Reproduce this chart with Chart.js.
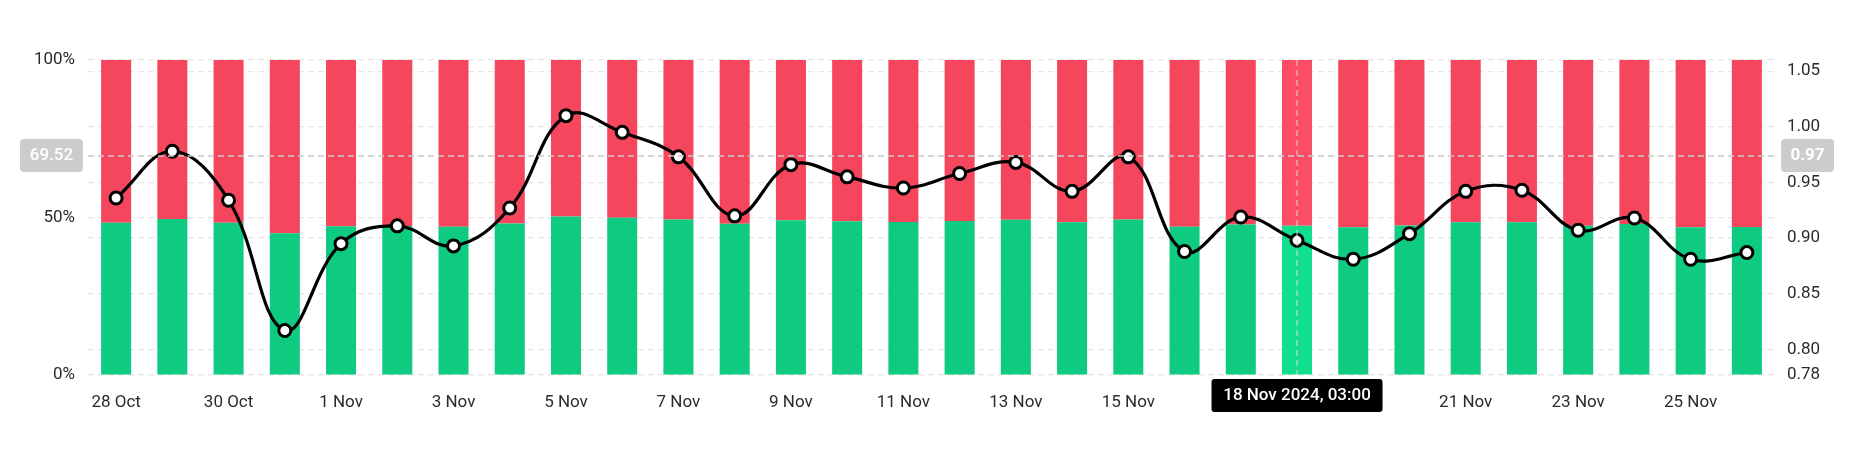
<!DOCTYPE html>
<html>
<head>
    <title>Long/Short Ratio</title>
    <script src="https://cdn.jsdelivr.net/npm/chart.js"></script>
    <style>
      body { margin: 0; background: #fff; }
    </style>
</head>
<body>
    <canvas id="chart" width="1852" height="450"></canvas>

    <script>
    const labels = ['28 Oct','29 Oct','30 Oct','31 Oct','1 Nov','2 Nov','3 Nov','4 Nov','5 Nov','6 Nov',
      '7 Nov','8 Nov','9 Nov','10 Nov','11 Nov','12 Nov','13 Nov','14 Nov','15 Nov','16 Nov',
      '17 Nov','18 Nov','19 Nov','20 Nov','21 Nov','22 Nov','23 Nov','24 Nov','25 Nov','26 Nov'];
    const longPct = [48.3, 49.5, 48.3, 45.0, 47.2, 47.3, 47.1, 48.1, 50.3, 49.9,
      49.4, 48.0, 49.1, 48.8, 48.6, 48.9, 49.3, 48.5, 49.4, 47.1,
      47.8, 47.4, 46.9, 47.5, 48.5, 48.5, 47.4, 47.9, 46.9, 47.0];
    const shortPct = [51.7, 50.5, 51.7, 55.0, 52.8, 52.7, 52.9, 51.9, 49.7, 50.1,
      50.6, 52.0, 50.9, 51.2, 51.4, 51.1, 50.7, 51.5, 50.6, 52.9,
      52.2, 52.6, 53.1, 52.5, 51.5, 51.5, 52.6, 52.1, 53.1, 53.0];
    const ratio = [0.936, 0.978, 0.934, 0.817, 0.895, 0.911, 0.893, 0.927, 1.010, 0.995,
      0.973, 0.920, 0.966, 0.955, 0.945, 0.958, 0.968, 0.942, 0.973, 0.888,
      0.919, 0.898, 0.881, 0.904, 0.942, 0.943, 0.907, 0.918, 0.881, 0.887];
    const rightMin = 0.777;
    const rightMax = 1.06;
    const rightTicks = [0.80, 0.85, 0.90, 0.95, 1.00, 1.05];
    const hoverIndex = 21;
    const hoverLabel = '18 Nov 2024, 03:00';
    const crossPct = 69.52;

    const green = '#0ECB81', greenHi = '#12DF8E';
    const red = '#F6465D', redHi = '#FC4D66';
    const textColor = '#2b2b2b';
    const gridColor = '#e6e6e6';

    Chart.defaults.font.family = 'Roboto, "Noto Sans", sans-serif';
    Chart.defaults.font.size = 17;
    Chart.defaults.color = textColor;

    function roundBox(ctx, x, y, w, h, r, fill) {
      ctx.beginPath();
      ctx.roundRect(x, y, w, h, r);
      ctx.fillStyle = fill;
      ctx.fill();
    }

    const crosshair = {
      id: 'crosshair',
      afterDatasetsDraw(chart) {
        const ctx = chart.ctx;
        const area = chart.chartArea;
        const x = chart.scales.x.getPixelForValue(hoverIndex);
        const y = chart.scales.y.getPixelForValue(crossPct);
        ctx.save();
        ctx.lineWidth = 1.5;
        ctx.setLineDash([6, 4]);
        ctx.strokeStyle = '#c9c9c9';
        ctx.beginPath();
        ctx.moveTo(area.left, y);
        ctx.lineTo(area.right + 2, y);
        ctx.stroke();
        ctx.strokeStyle = '#dcdcdc';
        ctx.lineWidth = 1;
        ctx.beginPath();
        ctx.moveTo(x, area.top);
        ctx.lineTo(x, area.bottom);
        ctx.stroke();
        ctx.restore();
      },
      afterDraw(chart) {
        const ctx = chart.ctx;
        const area = chart.chartArea;
        const yR = chart.scales.y1;
        const x = chart.scales.x.getPixelForValue(hoverIndex);
        const y = chart.scales.y.getPixelForValue(crossPct);
        const rVal = Math.floor(yR.getValueForPixel(y) * 100) / 100;
        ctx.save();
        ctx.textAlign = 'center';
        ctx.textBaseline = 'middle';
        // left value box
        ctx.font = '500 17px Roboto, sans-serif';
        roundBox(ctx, 20, y - 17, 63, 33, 4, '#cccccc');
        ctx.fillStyle = '#fff';
        ctx.fillText(crossPct.toFixed(2), 51.5, y);
        // right value box
        roundBox(ctx, area.right + 6, y - 17, 53, 33, 4, '#cccccc');
        ctx.fillStyle = '#fff';
        ctx.font = 'bold 17px Roboto, sans-serif';
        ctx.fillText(rVal.toFixed(2), area.right + 32.5, y);
        // date box
        ctx.font = '500 17px Roboto, sans-serif';
        roundBox(ctx, x - 85.5, area.bottom + 4, 171, 33, 3, '#000');
        ctx.fillStyle = '#fff';
        ctx.fillText(hoverLabel, x, area.bottom + 21);
        ctx.restore();
      }
    };

    const ctx = document.getElementById('chart').getContext('2d');
    const chart = new Chart(ctx, {
      data: {
        labels: labels,
        datasets: [
          {
            type: 'line',
            label: 'Long/Short Ratio',
            data: ratio,
            yAxisID: 'y1',
            borderColor: '#000',
            borderWidth: 3.2,
            tension: 0.4,
            pointRadius: 6,
            pointBorderWidth: 3,
            pointBackgroundColor: '#fff',
            pointBorderColor: '#000',
            order: 0
          },
          {
            type: 'bar',
            label: 'Long',
            data: longPct,
            yAxisID: 'y',
            backgroundColor: labels.map((l, i) => i === hoverIndex ? greenHi : green),
            barPercentage: 0.534,
            categoryPercentage: 1,
            stack: 's',
            order: 1
          },
          {
            type: 'bar',
            label: 'Short',
            data: shortPct,
            yAxisID: 'y',
            backgroundColor: labels.map((l, i) => i === hoverIndex ? redHi : red),
            barPercentage: 0.534,
            categoryPercentage: 1,
            stack: 's',
            order: 1
          }
        ]
      },
      options: {
        responsive: false,
        animation: false,
        layout: { padding: { top: 60, left: 0, right: 0, bottom: 0 } },
        plugins: {
          legend: { display: false },
          tooltip: { enabled: false }
        },
        scales: {
          x: {
            stacked: true,
            grid: { display: false },
            border: { display: false },
            ticks: {
              autoSkip: false,
              maxRotation: 0,
              padding: 10,
              callback: function(v, i) { return i % 2 === 0 ? labels[i] : ''; }
            },
            afterFit: function(s) { s.height = 75; }
          },
          y: {
            stacked: true,
            position: 'left',
            min: 0,
            max: 100,
            grid: { color: gridColor, lineWidth: 1.2, drawTicks: false },
            border: { display: false, dash: [6, 4] },
            ticks: { stepSize: 50, padding: 13, callback: v => v + '%' },
            afterFit: function(s) { s.width = 88; }
          },
          y1: {
            position: 'right',
            min: rightMin,
            max: rightMax,
            grid: { color: gridColor, lineWidth: 1.2, drawTicks: false },
            border: { display: false, dash: [6, 4] },
            ticks: { padding: 12, callback: v => v.toFixed(2) },
            afterBuildTicks: function(s) {
              s.ticks = [rightMin].concat(rightTicks).map(v => ({ value: v }));
            },
            afterFit: function(s) { s.width = 77; }
          }
        }
      },
      plugins: [crosshair]
    });
    </script>
</body>
</html>
